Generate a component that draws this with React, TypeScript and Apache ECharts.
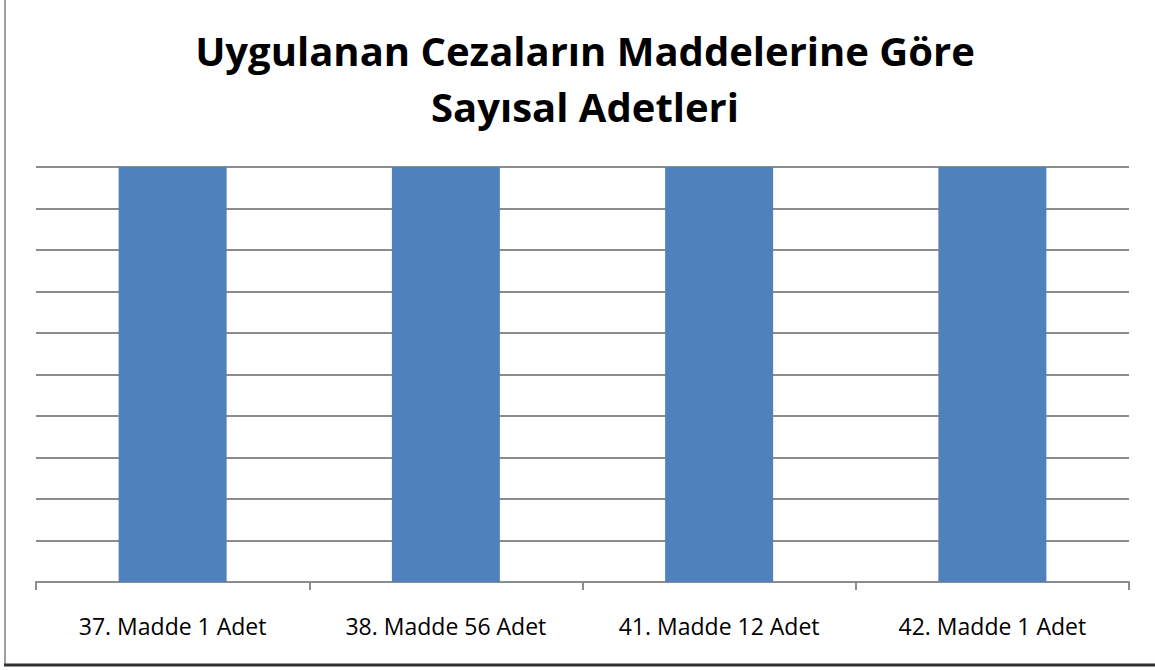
import React, { useEffect, useRef } from "react";
import * as echarts from "echarts";

const categories = ["37. Madde 1 Adet", "38. Madde 56 Adet", "41. Madde 12 Adet", "42. Madde 1 Adet"];
const values = [1, 1, 1, 1];
const titleText = "Uygulanan Cezaların Maddelerine Göre\nSayısal Adetleri";

export default function App() {
  const ref = useRef<HTMLDivElement>(null);
  useEffect(() => {
    if (!ref.current) return;
    const chart = echarts.init(ref.current, null, { renderer: "svg" });
    chart.setOption({
      animation: false,
      backgroundColor: "#ffffff",
      title: {
        text: titleText,
        left: 580,
        textAlign: "center",
        top: 17,
        textStyle: {
          fontFamily: "Open Sans",
          fontWeight: "bold",
          fontSize: 40,
          lineHeight: 56,
          color: "#000000",
        },
      },
      grid: { left: 36, right: 26, top: 167, bottom: 88 },
      xAxis: {
        type: "category",
        data: categories,
        axisLine: { lineStyle: { color: "#8c8c8c", width: 2 } },
        axisTick: { show: true, length: 8, lineStyle: { color: "#8c8c8c", width: 2 } },
        axisLabel: { fontFamily: "Open Sans", fontSize: 23, color: "#000000", margin: 32 },
        splitLine: { show: false },
      },
      yAxis: {
        type: "value",
        min: 0,
        max: 1,
        interval: 0.1,
        axisLine: { show: false },
        axisTick: { show: false },
        axisLabel: { show: false },
        splitLine: { lineStyle: { color: "#8c8c8c", width: 2 } },
      },
      series: [
        {
          type: "bar",
          data: values,
          barWidth: 108,
          itemStyle: { color: "#4f81bd" },
        },
      ],
      graphic: [
        { type: "line", shape: { x1: 5, y1: 0, x2: 5, y2: 666 }, style: { stroke: "#a0a0a0", lineWidth: 2 } },
        { type: "line", shape: { x1: 4, y1: 665, x2: 1155, y2: 665 }, style: { stroke: "#303030", lineWidth: 3 } },
      ],
    });
    return () => chart.dispose();
  }, []);
  return (
    <div
      ref={ref}
      style={{ position: "fixed", left: 0, top: 0, width: 1155, height: 670 }}
    />
  );
}
